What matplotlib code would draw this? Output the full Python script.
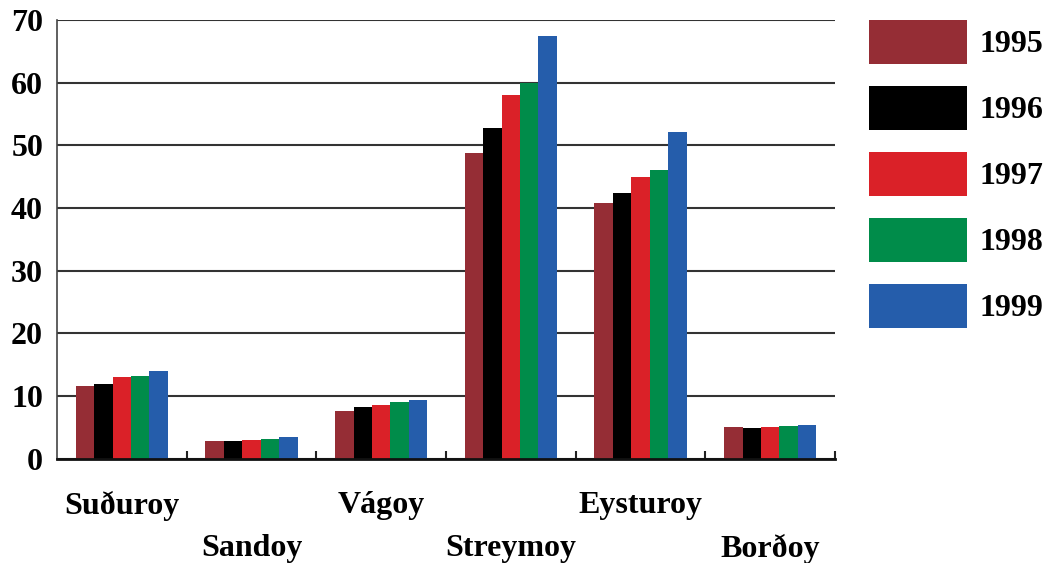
import matplotlib
matplotlib.use("Agg")
import matplotlib.pyplot as plt
import numpy as np

categories = ["Suðuroy", "Sandoy", "Vágoy", "Streymoy", "Eysturoy", "Borðoy"]
years = ["1995", "1996", "1997", "1998", "1999"]
v1995 = [11.6, 2.8, 7.6, 48.8, 40.8, 5.1]
v1996 = [11.9, 2.8, 8.3, 52.8, 42.4, 4.9]
v1997 = [13.0, 3.0, 8.6, 58.1, 45.0, 5.1]
v1998 = [13.2, 3.2, 9.0, 59.9, 46.1, 5.2]
v1999 = [14.0, 3.5, 9.4, 67.5, 52.2, 5.4]
series = [v1995, v1996, v1997, v1998, v1999]
colors = ["#952D35", "#000000", "#DA2128", "#008C4A", "#255DAB"]

plt.rcParams['font.family'] = ['Liberation Serif', 'DejaVu Serif']
plt.rcParams['font.weight'] = 'bold'

FS = 23
fig = plt.figure(figsize=(10.52, 5.63), dpi=100)
ax = fig.add_axes([57/1052, 1 - 458.7/563, (835-57)/1052, (458.7-20)/563])

x = np.arange(len(categories))
w = 0.142
for i, (vals, c, yr) in enumerate(zip(series, colors, years)):
    ax.bar(x + (i - 2) * w, vals, width=w, color=c, label=yr, zorder=3)

ax.set_xlim(-0.5, len(categories) - 0.5)
ax.set_ylim(0, 70)
ax.set_yticks(np.arange(0, 71, 10))
ax.yaxis.grid(True, color="#333333", linewidth=1.5, zorder=1)
ax.set_axisbelow(True)
ax.tick_params(axis='y', length=0, pad=10, labelsize=FS)
for lab in ax.get_yticklabels():
    lab.set_fontweight('bold')

ax.set_xticks(x)
ax.set_xticklabels(categories, fontsize=FS, fontweight='bold')
ax.tick_params(axis='x', which='major', length=0)
ax.set_xticks(np.arange(0.5, len(categories), 1.0), minor=True)
ax.tick_params(axis='x', which='minor', direction='in', length=6, width=1.5, color='#222222')
for i, t in enumerate(ax.xaxis.get_major_ticks()):
    t.set_pad(23 if i % 2 == 0 else 54)

for s in ['top', 'right']:
    ax.spines[s].set_visible(False)
ax.spines['left'].set_color('#444444')
ax.spines['left'].set_linewidth(1.2)
ax.spines['bottom'].set_color('#111111')
ax.spines['bottom'].set_linewidth(2)
ax.spines['bottom'].set_zorder(4)

em = FS * 100 / 72.0
hh = ((44 / em) - 0.245) / 0.65
fig.legend(loc='upper left', bbox_to_anchor=(869/1052, 1 - 20/563),
           frameon=False, handlelength=98/em, handleheight=hh,
           labelspacing=22/em, handletextpad=12/em, borderpad=0, borderaxespad=0,
           prop={'weight': 'bold', 'size': FS})

fig.savefig("out.png", dpi=100)
